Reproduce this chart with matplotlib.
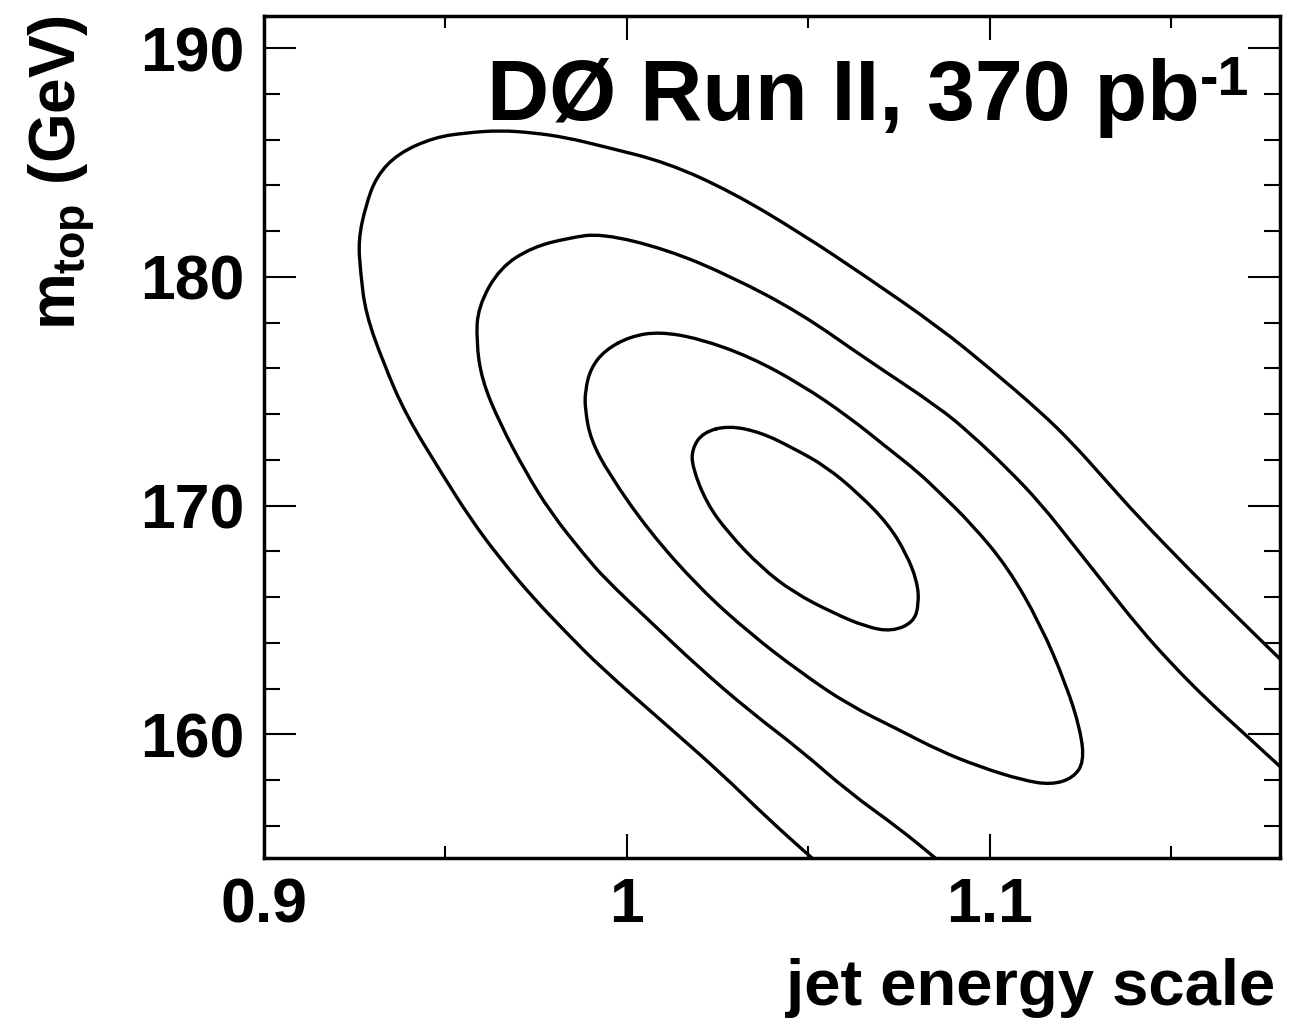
import matplotlib
matplotlib.use("Agg")
import matplotlib.pyplot as plt
from matplotlib.path import Path
from matplotlib.patches import PathPatch
from matplotlib.ticker import MultipleLocator, FixedLocator

plt.rcParams["font.family"] = ["Liberation Sans", "DejaVu Sans"]
plt.rcParams["font.weight"] = "bold"
plt.rcParams["mathtext.fontset"] = "custom"
plt.rcParams["mathtext.rm"] = "Liberation Sans:bold"
plt.rcParams["mathtext.it"] = "Liberation Sans:bold"
plt.rcParams["mathtext.bf"] = "Liberation Sans:bold"

# ===============================
# CONTOURS: jet energy scale vs m_top
# ===============================
# innermost contour (closed)
c1_jes = [1.028, 1.037, 1.046, 1.055, 1.064, 1.072, 1.077, 1.080, 1.0805, 1.079,
          1.073, 1.066, 1.057, 1.046, 1.037, 1.028, 1.022, 1.018, 1.018, 1.021]
c1_mtop = [173.5, 173.2, 172.5, 171.7, 170.5, 169.2, 167.9, 166.7, 165.7, 164.9,
           164.5, 164.7, 165.3, 166.2, 167.3, 168.8, 170.1, 171.7, 172.5, 173.2]

# second contour (closed)
c2_jes = [1.001, 1.009, 1.020, 1.034, 1.048, 1.061, 1.072, 1.080, 1.086, 1.095,
          1.105, 1.114, 1.121, 1.125, 1.126, 1.123, 1.117, 1.109, 1.097, 1.086,
          1.075, 1.061, 1.048, 1.034, 1.020, 1.006, 0.995, 0.990, 0.9885, 0.9885,
          0.990, 0.994]
c2_mtop = [177.4, 177.6, 177.3, 176.5, 175.3, 173.9, 172.5, 171.5, 170.6, 169.2,
           167.3, 164.8, 162.2, 160.2, 158.8, 158.1, 157.8, 158.0, 158.6, 159.3,
           160.2, 161.3, 162.7, 164.4, 166.4, 168.9, 171.4, 172.9, 174.2, 175.0,
           176.0, 176.8]

# third contour (open, leaves through bottom and right edges)
c3_jes = [1.085, 1.075, 1.061, 1.048, 1.034, 1.020, 1.006, 0.994, 0.988, 0.979,
          0.972, 0.965, 0.960, 0.9585, 0.959, 0.965, 0.974, 0.984, 0.993, 1.011,
          1.029, 1.048, 1.066, 1.086, 1.095, 1.105, 1.114, 1.123, 1.132, 1.141,
          1.150, 1.160, 1.169, 1.180]
c3_mtop = [154.6, 155.9, 157.5, 159.3, 161.0, 162.9, 165.0, 166.8, 167.9, 169.7,
           171.5, 173.6, 175.5, 177.2, 178.7, 180.4, 181.3, 181.7, 181.9, 181.2,
           180.0, 178.4, 176.4, 174.3, 173.1, 171.6, 170.1, 168.3, 166.5, 164.7,
           163.1, 161.5, 160.2, 158.6]

# outermost contour (open)
c4_jes = [1.051, 1.039, 1.026, 1.011, 0.993, 0.983, 0.974, 0.965, 0.957, 0.949,
          0.939, 0.933, 0.928, 0.9266, 0.926, 0.928, 0.931, 0.937, 0.947, 0.956,
          0.965, 0.974, 0.983, 0.9935, 1.011, 1.029, 1.048, 1.066, 1.086, 1.100,
          1.114, 1.123, 1.132, 1.141, 1.155, 1.169, 1.180]
c4_mtop = [154.6, 156.3, 158.3, 160.4, 162.9, 164.5, 166.0, 167.7, 169.4, 171.4,
           174.0, 176.2, 178.4, 180.2, 181.6, 183.1, 184.4, 185.4, 186.1, 186.3,
           186.4, 186.3, 186.1, 185.7, 185.0, 183.7, 181.9, 180.0, 177.8, 176.0,
           174.1, 172.7, 171.1, 169.5, 167.2, 165.0, 163.3]

contours = [(c1_jes, c1_mtop, True), (c2_jes, c2_mtop, True),
            (c3_jes, c3_mtop, False), (c4_jes, c4_mtop, False)]

x_ticks = [0.9, 1.0, 1.1]
x_ticklabels = ["0.9", "1", "1.1"]
x_minor = [0.95, 1.05, 1.15]
y_ticks = [160, 170, 180, 190]


def smooth_path(xs, ys, closed):
    # quadratic bezier through the midpoints, read points used as control points
    pts = list(zip(xs, ys))
    mid = lambda a, b: ((a[0] + b[0]) / 2, (a[1] + b[1]) / 2)
    verts, codes = [], []
    if closed:
        n = len(pts)
        verts.append(mid(pts[-1], pts[0]))
        codes.append(Path.MOVETO)
        for i in range(n):
            verts += [pts[i], mid(pts[i], pts[(i + 1) % n])]
            codes += [Path.CURVE3, Path.CURVE3]
    else:
        verts += [pts[0], mid(pts[0], pts[1])]
        codes += [Path.MOVETO, Path.LINETO]
        for i in range(1, len(pts) - 1):
            verts += [pts[i], mid(pts[i], pts[i + 1])]
            codes += [Path.CURVE3, Path.CURVE3]
        verts.append(pts[-1])
        codes.append(Path.LINETO)
    return Path(verts, codes)


# ===============================
# PLOT
# ===============================
fig = plt.figure(figsize=(12.96, 10.25), dpi=100)
ax = fig.add_axes([264 / 1296, 1 - 858 / 1025, (1280 - 264) / 1296, (858 - 16) / 1025])

for xs, ys, closed in contours:
    ax.add_patch(PathPatch(smooth_path(xs, ys, closed), facecolor="none",
                           edgecolor="black", lw=2.4, joinstyle="round", capstyle="round"))

ax.set_xlim(0.9, 1.18)
ax.set_ylim(154.6, 191.4)

ax.xaxis.set_major_locator(FixedLocator(x_ticks))
ax.set_xticklabels(x_ticklabels)
ax.xaxis.set_minor_locator(FixedLocator(x_minor))
ax.yaxis.set_major_locator(FixedLocator(y_ticks))
ax.yaxis.set_minor_locator(MultipleLocator(2))

for s in ax.spines.values():
    s.set_linewidth(2.5)

ax.tick_params(axis="both", which="both", direction="in", top=True, right=True,
               width=1.5, labelsize=45)
ax.tick_params(axis="x", which="major", length=17, pad=13)
ax.tick_params(axis="x", which="minor", length=8.5)
ax.tick_params(axis="y", which="major", length=23, pad=14)
ax.tick_params(axis="y", which="minor", length=11.5)

# axis titles, ROOT style (flush to the axis ends)
fig.text(1275 / 1296, 1 - 1005 / 1025, "jet energy scale", fontsize=47,
         ha="right", va="baseline")
fig.text(62 / 1296, 1 - 15 / 1025, r"$m_{top}$ (GeV)", fontsize=46,
         rotation=90, ha="center", va="top")

# experiment label
fig.text(487 / 1296, 1 - 120 / 1025, "DØ Run II, 370 pb", fontsize=62,
         ha="left", va="baseline")
fig.text(1200 / 1296, 1 - 95 / 1025, "-1", fontsize=40, ha="left", va="baseline")

plt.savefig("out.png", dpi=100)
